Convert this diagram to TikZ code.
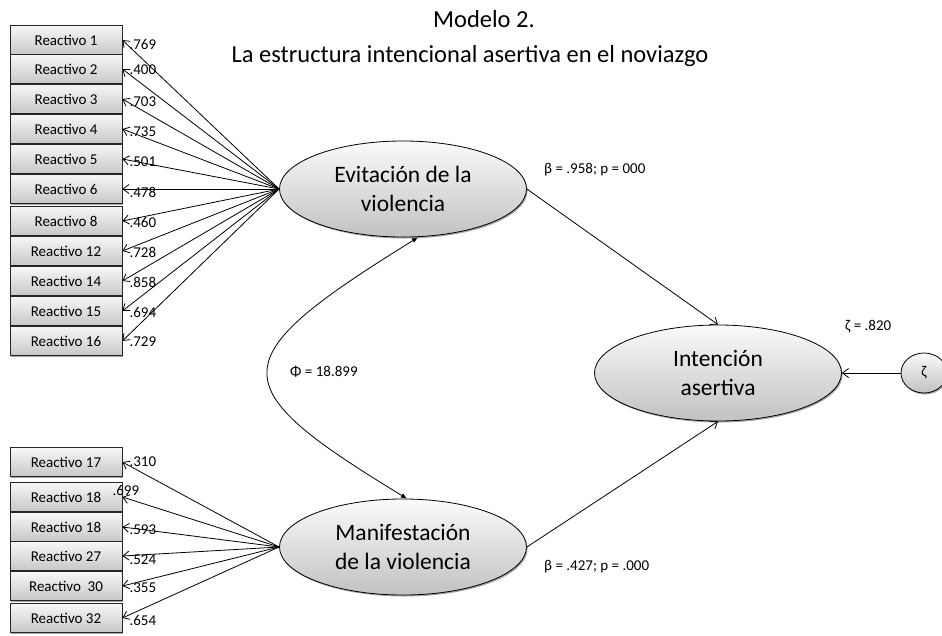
\documentclass[tikz,border=0pt]{standalone}
\usepackage{fontspec}
\setmainfont{Carlito}
\usetikzlibrary{arrows.meta,shapes.geometric,shadows}
\tikzset{
  shad/.style={drop shadow={shadow xshift=1.2pt,shadow yshift=-1.5pt,opacity=0.35,fill=black}},
  rbox/.style={draw=black!85, line width=0.7pt, rectangle, minimum width=112pt, minimum height=29.5pt,
    inner sep=0pt, top color=black!3, bottom color=black!22, shad, font=\fontsize{15}{18}\selectfont},
  lat/.style={ellipse, draw=black, line width=0.8pt, minimum width=247pt, minimum height=96pt, inner sep=0pt,
    top color=black!2, bottom color=black!24, shad, align=center, font=\fontsize{23.5}{29}\selectfont},
  zet/.style={ellipse, draw=black, line width=0.8pt, minimum width=46pt, minimum height=40pt, inner sep=0pt,
    top color=black!2, bottom color=black!24, shad, font=\fontsize{15}{18}\selectfont},
  lbl/.style={inner sep=0pt, font=\fontsize{15}{18}\selectfont},
  ttl/.style={inner sep=0pt, font=\fontsize{24.5}{29}\selectfont},
  ind/.style={-{Straight Barb[length=6pt,width=9pt]}, line width=0.8pt},
  cov/.style={{Latex[length=6pt,width=5pt]}-{Latex[length=6pt,width=5pt]}, line width=0.8pt},
}
\begin{document}
\begin{tikzpicture}[x=1pt,y=-1pt]
\fill[white] (0,0) rectangle (942,635);
\useasboundingbox (0,0) rectangle (942,635);

% titles
\node[ttl, anchor=base] (t1) at (484,27) {Modelo 2.};
\node[ttl, anchor=base] (t2) at (470,62) {La estructura intencional asertiva en el noviazgo};

% latent variables
\node[lat] (evit) at (403,189) {Evitación de la\\violencia};
\node[lat] (man) at (403,547) {Manifestación\\de la violencia};
\node[lat] (int) at (718,373) {Intención\\asertiva};
\node[zet] (z) at (924,373) {ζ};

% indicators of Evitación
\foreach \n/\y/\t/\v/\dy in {
  1/40/Reactivo 1/.769/-4, 2/69/Reactivo 2/.400/-1, 3/99/Reactivo 3/.703/-3,
  4/129/Reactivo 4/.735/-3, 5/159/Reactivo 5/.501/-3, 6/189/Reactivo 6/.478/-3,
  7/221/Reactivo 8/.460/-1, 8/251/Reactivo 12/.728/-1, 9/281/Reactivo 14/.858/-1,
  10/311/Reactivo 15/.694/-1, 11/341/Reactivo 16/.729/-1}{
  \node[rbox] (r\n) at (66,\y) {\t};
  \draw[ind] (evit.west) -- (r\n.east);
  \node[lbl, anchor=west] (lr\n) at ([xshift=7pt,yshift=\dy pt]r\n.east) {\v};
}

% indicators of Manifestación
\foreach \n/\y/\t/\v/\dx/\dy in {
  1/462/Reactivo 17/.310/7/0, 2/497/Reactivo 18/.699/-10/7, 3/527/Reactivo 18/.593/7/-3,
  4/556/Reactivo 27/.524/7/-4, 5/586/Reactivo\ \ 30/.355/7/-2, 6/618/Reactivo 32/.654/7/-2}{
  \node[rbox, minimum height=29pt] (b\n) at (66,\y) {\t};
  \draw[ind] (man.west) -- (b\n.east);
  \node[lbl, anchor=west] (lb\n) at ([xshift=\dx pt,yshift=\dy pt]b\n.east) {\v};
}

% structural paths
\draw[ind] (evit.east) -- (int.north);
\draw[ind] (man.east) -- (int.south);
\draw[ind] (z) -- (int.east);
\draw[cov] ([xshift=15pt]evit.south) .. controls (220,360) and (220,385) .. ([xshift=4pt]man.north);

% path labels
\node[lbl, anchor=west] (beta1) at (544,170) {β = .958; p = 000};
\node[lbl, anchor=west] (beta2) at (544,567) {β = .427; p = .000};
\node[lbl, anchor=west] (phi) at (290,372) {Φ = 18.899};
\node[lbl, anchor=west] (zl) at (845,327) {ζ = .820};
\end{tikzpicture}
\end{document}
